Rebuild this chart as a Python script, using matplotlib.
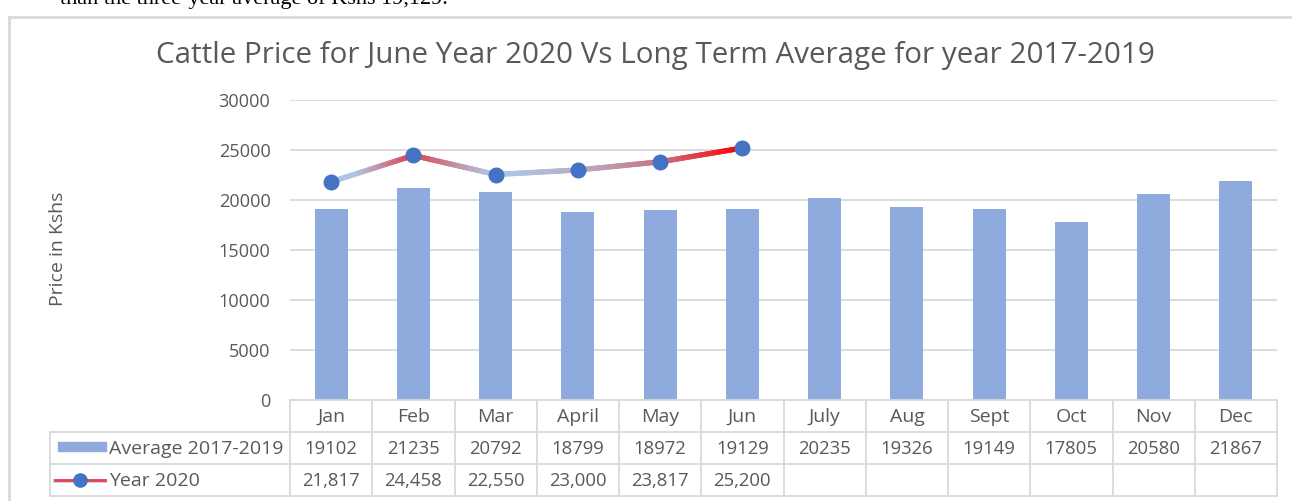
import numpy as np
import matplotlib
matplotlib.use("Agg")
import matplotlib.pyplot as plt
from matplotlib.collections import LineCollection
from matplotlib.colors import LinearSegmentedColormap, Normalize
from matplotlib.patches import Rectangle
from matplotlib.lines import Line2D

# ---------------- data ----------------
months = ["Jan", "Feb", "Mar", "April", "May", "Jun", "July", "Aug", "Sept", "Oct", "Nov", "Dec"]
avg_2017_2019 = [19102, 21235, 20792, 18799, 18972, 19129, 20235, 19326, 19149, 17805, 20580, 21867]
year_2020 = [21817, 24458, 22550, 23000, 23817, 25200]
avg_label = "Average 2017-2019"
y2020_label = "Year 2020"
title = "Cattle Price for June Year 2020 Vs Long Term Average for year 2017-2019"
ylabel = "Price in Kshs"
yticks = [0, 5000, 10000, 15000, 20000, 25000, 30000]
top_text = "than the three-year average of Kshs 19,129."

# ---------------- style ----------------
FONT = ["Open Sans", "DejaVu Sans"]
TXT = "#595959"
GRID = "#D9D9D9"
BAR = "#8FAADC"
MARK = "#4472C4"

W, H = 1292, 501
fig = plt.figure(figsize=(W / 100, H / 100), dpi=100)

def fx(px):
    return px / W

def fy(py):
    return 1 - py / H

L, R, T, B = 290, 1277, 100, 400
ax = fig.add_axes([fx(L), fy(B), (R - L) / W, (B - T) / H])
x = np.arange(len(months))
ax.set_xlim(-0.5, len(months) - 0.5)
ax.set_ylim(0, 30000)

ax.bar(x, avg_2017_2019, width=0.4, color=BAR, zorder=2)

# gradient line coloured by value
cmap = LinearSegmentedColormap.from_list(
    "grad", [(0.0, "#A4CAEE"), (0.25, "#B0C4E2"), (0.45, "#BE98AE"), (0.7, "#D45664"), (1.0, "#FF0000")])
norm = Normalize(min(year_2020), max(year_2020))
xl = np.arange(len(year_2020))
segs, cols = [], []
for i in range(len(year_2020) - 1):
    n = 40
    xs = np.linspace(xl[i], xl[i + 1], n + 1)
    ys = np.linspace(year_2020[i], year_2020[i + 1], n + 1)
    for j in range(n):
        segs.append([(xs[j], ys[j]), (xs[j + 1], ys[j + 1])])
        cols.append(cmap(norm((ys[j] + ys[j + 1]) / 2)))
lc = LineCollection(segs, colors=cols, linewidths=3.8, capstyle="round", zorder=3)
ax.add_collection(lc)
ax.plot(xl, year_2020, linestyle="none", marker="o", markersize=10.5, color=MARK, zorder=4)

ax.set_yticks(yticks)
ax.set_yticklabels([str(v) for v in yticks], fontfamily=FONT, fontsize=13.1, color=TXT)
ax.tick_params(axis="y", length=0, pad=14)
ax.set_xticks([])
ax.grid(axis="y", color=GRID, linewidth=1.3, zorder=0)
for s in ax.spines.values():
    s.set_visible(False)

# ---------------- table ----------------
trans = ax.get_xaxis_transform()
ppu = (R - L) / len(months)

def ay(py):
    return (B - py) / (B - T)

def dx(px):
    return (px - L) / ppu - 0.5

tl = dict(color=GRID, linewidth=1.3, transform=trans, clip_on=False)
rows = [400, 432, 464, 496]
ax.add_line(Line2D([-0.5, len(months) - 0.5], [ay(rows[0])] * 2, **tl))
for r in rows[1:]:
    ax.add_line(Line2D([dx(50), len(months) - 0.5], [ay(r)] * 2, **tl))
for i in range(len(months) + 1):
    ax.add_line(Line2D([i - 0.5, i - 0.5], [ay(rows[0]), ay(rows[-1])], **tl))
ax.add_line(Line2D([dx(50), dx(50)], [ay(rows[1]), ay(rows[-1])], **tl))

tk = dict(transform=trans, fontfamily=FONT, color=TXT, ha="center", va="center", clip_on=False)
for i, m in enumerate(months):
    ax.text(i, ay(416.5), m, fontsize=14, **tk)
for i, v in enumerate(avg_2017_2019):
    ax.text(i, ay(448.5), str(v), fontsize=13.3, **tk)
for i, v in enumerate(year_2020):
    ax.text(i, ay(480.5), f"{v:,}", fontsize=13.3, **tk)

# legend keys
ax.add_patch(Rectangle((dx(58), ay(451)), dx(106) - dx(58), ay(442) - ay(451),
                       transform=trans, color=BAR, clip_on=False))
ax.add_line(Line2D([dx(55), dx(105)], [ay(481)] * 2, color="#BDD7EE", linewidth=3, transform=trans, clip_on=False))
ax.add_line(Line2D([dx(55), dx(105)], [ay(479.5)] * 2, color="#E8404A", linewidth=2, transform=trans, clip_on=False))
ax.add_line(Line2D([dx(80)], [ay(480)], marker="o", markersize=9.5, color=MARK, transform=trans, clip_on=False))
tl2 = dict(transform=trans, fontfamily=FONT, fontsize=14, color=TXT, ha="left", va="center", clip_on=False)
ax.text(dx(109), ay(448.5), avg_label, **tl2)
ax.text(dx(109), ay(480.5), y2020_label, **tl2)

# ---------------- title / labels / frame ----------------
fig.text(fx(655), fy(56), title, fontfamily=FONT, fontsize=21.3, color=TXT, ha="center", va="center")
fig.text(fx(58), fy(249), ylabel, fontfamily=FONT, fontsize=14, color=TXT, ha="center", va="center", rotation=90)
fig.text(fx(60), fy(4), top_text, fontfamily="Liberation Serif", fontsize=16, color="black",
         ha="left", va="baseline")

fig.add_artist(Line2D([fx(9), 1.0], [fy(16.5)] * 2, color=GRID, linewidth=2, transform=fig.transFigure))
fig.add_artist(Line2D([fx(9), fx(9)], [fy(16.5), 0], color=GRID, linewidth=2, transform=fig.transFigure))

fig.savefig("out.png", dpi=100, facecolor="white")
